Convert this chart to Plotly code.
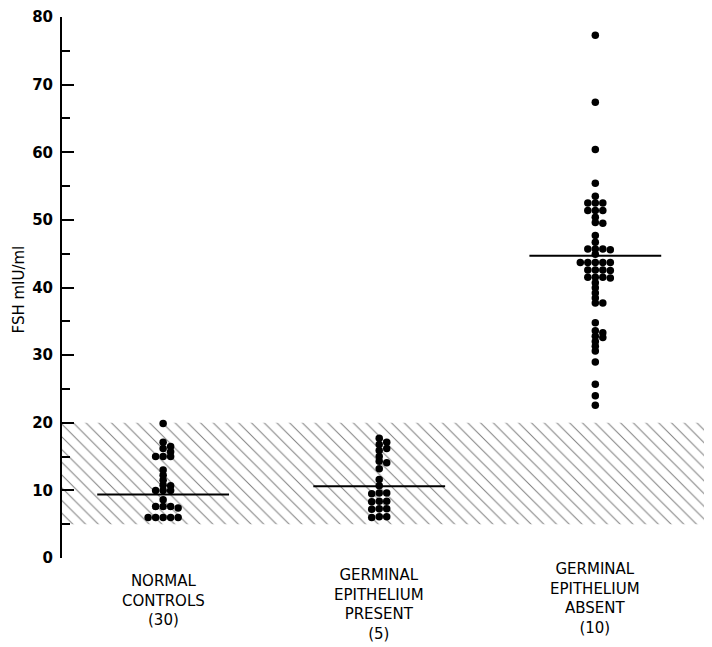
import plotly.graph_objects as go

# ---------------- data ----------------
group_labels = [
    "NORMAL<br>CONTROLS<br>(30)",
    "GERMINAL<br>EPITHELIUM<br>PRESENT<br>(5)",
    "GERMINAL<br>EPITHELIUM<br>ABSENT<br>(10)",
]
group_x = [1, 2, 3]

normal_controls = [19.9, 17.1, 16.5, 16.2, 15.7, 15.0, 15.0, 15.0, 13.0, 12.25,
                   11.5, 10.75, 10.7, 10.0, 10.0, 10.0, 8.6, 7.6, 7.6, 7.6, 7.4,
                   6.0, 6.0, 6.0, 6.0, 6.0]
germ_present = [17.7, 17.1, 16.8, 16.2, 15.9, 15.0, 14.3, 14.1, 13.2, 11.6, 10.7,
                9.6, 9.6, 9.5, 8.4, 8.4, 8.3, 7.3, 7.3, 7.2, 6.1, 6.1, 6.0]
germ_absent = [77.3, 67.4, 60.4, 55.4, 53.5, 52.5, 52.5, 52.5, 51.4, 51.4, 51.4,
               50.4, 49.6, 49.5, 47.7, 46.7, 45.7, 45.7, 45.7, 45.6, 44.9, 43.7,
               43.7, 43.7, 43.7, 43.7, 42.6, 42.6, 42.6, 42.5, 41.5, 41.5, 41.5,
               41.4, 40.7, 39.95, 39.2, 38.45, 37.7, 37.7, 34.8, 33.6, 33.3, 32.8,
               32.6, 32.0, 31.3, 30.6, 29.0, 25.7, 24.0, 22.6]
group_values = [normal_controls, germ_present, germ_absent]
medians = [9.4, 10.6, 44.7]
normal_range = [5, 20]
y_tick_vals = [0, 10, 20, 30, 40, 50, 60, 70, 80]

# ---------------- layout constants ----------------
PAGE_OFF = 8                      # default body margin of the html page
W, H = 712 - PAGE_OFF, 647 - PAGE_OFF
ML, MR, MT, MB = 62 - PAGE_OFF, 0, 14 - PAGE_OFF, 89
X_RANGE = [0.532, 3.54]
Y_RANGE = [0, 80]
PW, PH = W - ML - MR, H - MT - MB
PLOT_BOTTOM_PAGE = PAGE_OFF + MT + PH
PX_PER_X = PW / (X_RANGE[1] - X_RANGE[0])
PX_PER_Y = PH / (Y_RANGE[1] - Y_RANGE[0])
STEP_PX = 7.5      # horizontal spacing between swarm columns
THR_PX = 4.4       # min vertical gap inside a column
MEDIAN_HALF = 0.305
FONT = "DejaVu Sans"


def swarm(values, center):
    placed = {}
    xs = []
    for v in values:
        slot = 0
        for s in [0, 1, -1, 2, -2, 3, -3, 4, -4]:
            if all(abs(v - u) * PX_PER_Y >= THR_PX for u in placed.get(s, [])):
                slot = s
                break
        placed.setdefault(slot, []).append(v)
        xs.append(center + slot * STEP_PX / PX_PER_X)
    return xs


fig = go.Figure()

# hatched normal range band
fig.add_trace(go.Scatter(
    x=[X_RANGE[0], X_RANGE[1], X_RANGE[1], X_RANGE[0], X_RANGE[0]],
    y=[normal_range[0], normal_range[0], normal_range[1], normal_range[1], normal_range[0]],
    mode="lines", line=dict(width=0), fill="toself", fillcolor="white",
    fillpattern=dict(shape="\\", size=9, solidity=0.11, fgcolor="#000000",
                     bgcolor="white"),
    hoverinfo="skip", showlegend=False,
))

# median lines
for cx, m in zip(group_x, medians):
    fig.add_trace(go.Scatter(
        x=[cx - MEDIAN_HALF, cx + MEDIAN_HALF], y=[m, m], mode="lines",
        line=dict(color="black", width=2), showlegend=False, hoverinfo="skip",
    ))

# dots
for cx, vals in zip(group_x, group_values):
    fig.add_trace(go.Scatter(
        x=swarm(vals, cx), y=vals, mode="markers",
        marker=dict(color="black", size=7.5, line=dict(width=0)),
        showlegend=False,
    ))

# group labels
label_tops_px = [570, 564, 558]
for cx, lab, top in zip(group_x, group_labels, label_tops_px):
    fig.add_annotation(
        x=cx, xref="x", y=(PLOT_BOTTOM_PAGE - top) / PH, yref="paper",
        text=lab, showarrow=False, xanchor="center", yanchor="top",
        font=dict(family=FONT, size=15, color="black"), align="center",
    )

# y title
fig.add_annotation(
    x=(19 - PAGE_OFF - ML) / PW, xref="paper",
    y=(PLOT_BOTTOM_PAGE - 288) / PH, yref="paper",
    text="FSH mIU/ml", textangle=-90, showarrow=False,
    xanchor="center", yanchor="middle",
    font=dict(family=FONT, size=15, color="black"),
)

fig.update_layout(
    width=W, height=H,
    margin=dict(l=ML, r=MR, t=MT, b=MB),
    paper_bgcolor="white", plot_bgcolor="white",
    xaxis=dict(range=X_RANGE, visible=False, fixedrange=True),
    yaxis=dict(
        range=Y_RANGE, tickvals=y_tick_vals, ticks="inside", ticklen=12,
        tickwidth=2, tickcolor="black", showline=True, linewidth=2,
        linecolor="black", showgrid=False, zeroline=False,
        tickfont=dict(family=FONT, size=15, color="black", weight="bold"),
        minor=dict(dtick=5, tick0=0, ticks="inside", ticklen=8, tickwidth=2,
                   tickcolor="black", showgrid=False),
        ticklabelstandoff=4, ticklabeloverflow="allow",
    ),
    showlegend=False,
)

fig.write_html("out.html")
